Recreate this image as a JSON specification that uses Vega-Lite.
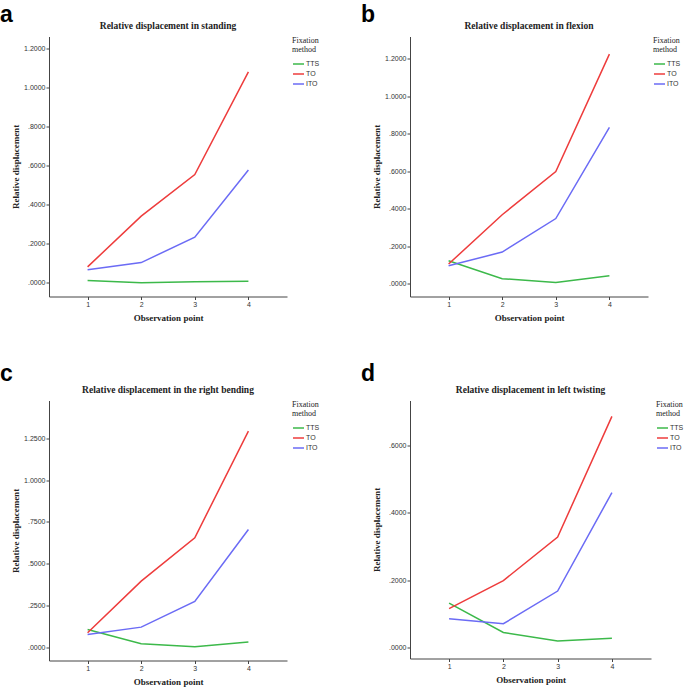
{
  "$schema": "https://vega.github.io/schema/vega-lite/v6.json",
  "padding": {"top": 3.5, "left": 0, "right": 0, "bottom": 0},
  "background": "white",
  "datasets": {
    "a": [
      {"point": 1, "method": "TTS", "value": 0.012}, {"point": 2, "method": "TTS", "value": 0.0}, {"point": 3, "method": "TTS", "value": 0.005}, {"point": 4, "method": "TTS", "value": 0.008},
      {"point": 1, "method": "TO", "value": 0.082}, {"point": 2, "method": "TO", "value": 0.342}, {"point": 3, "method": "TO", "value": 0.555}, {"point": 4, "method": "TO", "value": 1.082},
      {"point": 1, "method": "ITO", "value": 0.067}, {"point": 2, "method": "ITO", "value": 0.104}, {"point": 3, "method": "ITO", "value": 0.234}, {"point": 4, "method": "ITO", "value": 0.579}
    ],
    "b": [
      {"point": 1, "method": "TTS", "value": 0.123}, {"point": 2, "method": "TTS", "value": 0.027}, {"point": 3, "method": "TTS", "value": 0.007}, {"point": 4, "method": "TTS", "value": 0.043},
      {"point": 1, "method": "TO", "value": 0.105}, {"point": 2, "method": "TO", "value": 0.368}, {"point": 3, "method": "TO", "value": 0.599}, {"point": 4, "method": "TO", "value": 1.225},
      {"point": 1, "method": "ITO", "value": 0.096}, {"point": 2, "method": "ITO", "value": 0.169}, {"point": 3, "method": "ITO", "value": 0.348}, {"point": 4, "method": "ITO", "value": 0.834}
    ],
    "c": [
      {"point": 1, "method": "TTS", "value": 0.109}, {"point": 2, "method": "TTS", "value": 0.024}, {"point": 3, "method": "TTS", "value": 0.006}, {"point": 4, "method": "TTS", "value": 0.034},
      {"point": 1, "method": "TO", "value": 0.089}, {"point": 2, "method": "TO", "value": 0.397}, {"point": 3, "method": "TO", "value": 0.656}, {"point": 4, "method": "TO", "value": 1.291},
      {"point": 1, "method": "ITO", "value": 0.079}, {"point": 2, "method": "ITO", "value": 0.123}, {"point": 3, "method": "ITO", "value": 0.276}, {"point": 4, "method": "ITO", "value": 0.705}
    ],
    "d": [
      {"point": 1, "method": "TTS", "value": 0.132}, {"point": 2, "method": "TTS", "value": 0.045}, {"point": 3, "method": "TTS", "value": 0.020}, {"point": 4, "method": "TTS", "value": 0.028},
      {"point": 1, "method": "TO", "value": 0.116}, {"point": 2, "method": "TO", "value": 0.199}, {"point": 3, "method": "TO", "value": 0.328}, {"point": 4, "method": "TO", "value": 0.686},
      {"point": 1, "method": "ITO", "value": 0.086}, {"point": 2, "method": "ITO", "value": 0.071}, {"point": 3, "method": "ITO", "value": 0.168}, {"point": 4, "method": "ITO", "value": 0.460}
    ]
  },
  "spacing": 40,
  "resolve": {"scale": {"color": "independent", "x": "independent", "y": "independent"}, "legend": {"color": "independent"}},
  "vconcat": [
    {
      "spacing": 41,
      "resolve": {"scale": {"color": "independent", "x": "independent", "y": "independent"}, "legend": {"color": "independent"}},
      "hconcat": [
        {
          "title": {"text": "a", "anchor": "start", "font": "Liberation Sans", "fontSize": 23, "fontWeight": "bold", "color": "#000", "offset": -6, "dx": -11},
          "resolve": {"scale": {"color": "independent"}, "legend": {"color": "independent"}},
          "vconcat": [
            {
              "width": 238, "height": 260,
              "title": {"text": "Relative displacement in standing"},
              "data": {"name": "a"},
              "mark": {"type": "line", "strokeWidth": 1.5},
              "encoding": {
                "x": {"field": "point", "type": "quantitative", "scale": {"domain": [0.28, 4.72], "nice": false, "zero": false}, "axis": {"values": [1, 2, 3, 4], "format": "d", "title": "Observation point"}},
                "y": {"field": "value", "type": "quantitative", "scale": {"domain": [-0.07, 1.263], "nice": false, "zero": false}, "axis": {"values": [0, 0.2, 0.4, 0.6, 0.8, 1.0, 1.2], "labelExpr": "datum.value < 1 ? substring(format(datum.value, '.4f'), 1) : format(datum.value, '.4f')", "title": "Relative displacement"}},
                "color": {"field": "method", "type": "nominal", "scale": {"domain": ["TTS", "TO", "ITO"], "range": ["#3cb94a", "#ee3c3c", "#6b6bf5"]}, "legend": {"title": ["Fixation", "method"]}}
              }
            }
          ]
        },
        {
          "title": {"text": "b", "anchor": "start", "font": "Liberation Sans", "fontSize": 23, "fontWeight": "bold", "color": "#000", "offset": -6, "dx": -11},
          "resolve": {"scale": {"color": "independent"}, "legend": {"color": "independent"}},
          "vconcat": [
            {
              "width": 238, "height": 260,
              "title": {"text": "Relative displacement in  flexion"},
              "data": {"name": "b"},
              "mark": {"type": "line", "strokeWidth": 1.5},
              "encoding": {
                "x": {"field": "point", "type": "quantitative", "scale": {"domain": [0.28, 4.72], "nice": false, "zero": false}, "axis": {"values": [1, 2, 3, 4], "format": "d", "title": "Observation point"}},
                "y": {"field": "value", "type": "quantitative", "scale": {"domain": [-0.068, 1.319], "nice": false, "zero": false}, "axis": {"values": [0, 0.2, 0.4, 0.6, 0.8, 1.0, 1.2], "labelExpr": "datum.value < 1 ? substring(format(datum.value, '.4f'), 1) : format(datum.value, '.4f')", "title": "Relative displacement"}},
                "color": {"field": "method", "type": "nominal", "scale": {"domain": ["TTS", "TO", "ITO"], "range": ["#3cb94a", "#ee3c3c", "#6b6bf5"]}, "legend": {"title": ["Fixation", "method"]}}
              }
            }
          ]
        }
      ]
    },
    {
      "spacing": 41,
      "resolve": {"scale": {"color": "independent", "x": "independent", "y": "independent"}, "legend": {"color": "independent"}},
      "hconcat": [
        {
          "title": {"text": "c", "anchor": "start", "font": "Liberation Sans", "fontSize": 23, "fontWeight": "bold", "color": "#000", "offset": -1, "dx": -11},
          "resolve": {"scale": {"color": "independent"}, "legend": {"color": "independent"}},
          "vconcat": [
            {
              "width": 238, "height": 260,
              "title": {"text": "Relative displacement in the right bending"},
              "data": {"name": "c"},
              "mark": {"type": "line", "strokeWidth": 1.5},
              "encoding": {
                "x": {"field": "point", "type": "quantitative", "scale": {"domain": [0.28, 4.72], "nice": false, "zero": false}, "axis": {"values": [1, 2, 3, 4], "format": "d", "title": "Observation point"}},
                "y": {"field": "value", "type": "quantitative", "scale": {"domain": [-0.076, 1.474], "nice": false, "zero": false}, "axis": {"values": [0, 0.25, 0.5, 0.75, 1.0, 1.25], "labelExpr": "datum.value < 1 ? substring(format(datum.value, '.4f'), 1) : format(datum.value, '.4f')", "title": "Relative displacement"}},
                "color": {"field": "method", "type": "nominal", "scale": {"domain": ["TTS", "TO", "ITO"], "range": ["#3cb94a", "#ee3c3c", "#6b6bf5"]}, "legend": {"title": ["Fixation", "method"]}}
              }
            }
          ]
        },
        {
          "title": {"text": "d", "anchor": "start", "font": "Liberation Sans", "fontSize": 23, "fontWeight": "bold", "color": "#000", "offset": -1, "dx": -11},
          "resolve": {"scale": {"color": "independent"}, "legend": {"color": "independent"}},
          "vconcat": [
            {
              "width": 241, "height": 258,
              "title": {"text": "Relative displacement in left twisting"},
              "data": {"name": "d"},
              "mark": {"type": "line", "strokeWidth": 1.5},
              "encoding": {
                "x": {"field": "point", "type": "quantitative", "scale": {"domain": [0.28, 4.72], "nice": false, "zero": false}, "axis": {"values": [1, 2, 3, 4], "format": "d", "title": "Observation point"}},
                "y": {"field": "value", "type": "quantitative", "scale": {"domain": [-0.032, 0.733], "nice": false, "zero": false}, "axis": {"values": [0, 0.2, 0.4, 0.6], "labelExpr": "datum.value < 1 ? substring(format(datum.value, '.4f'), 1) : format(datum.value, '.4f')", "title": "Relative displacement"}},
                "color": {"field": "method", "type": "nominal", "scale": {"domain": ["TTS", "TO", "ITO"], "range": ["#3cb94a", "#ee3c3c", "#6b6bf5"]}, "legend": {"title": ["Fixation", "method"]}}
              }
            }
          ]
        }
      ]
    }
  ],
  "config": {
    "view": {"stroke": null},
    "title": {"font": "Liberation Serif", "fontSize": 9.5, "fontWeight": "bold", "color": "#222", "offset": 6},
    "axis": {
      "grid": false,
      "domainColor": "#444",
      "tickColor": "#444",
      "tickSize": 3,
      "labelFont": "Liberation Sans",
      "labelFontSize": 7,
      "labelColor": "#333",
      "labelPadding": 1,
      "titleFont": "Liberation Serif",
      "titleFontSize": 9,
      "titleFontWeight": "bold",
      "titleColor": "#222"
    },
    "axisY": {"minExtent": 25, "maxExtent": 25, "titlePadding": 4},
    "axisX": {"titlePadding": 6},
    "legend": {
      "orient": "right",
      "offset": 5,
      "padding": 0,
      "titleFont": "Liberation Serif",
      "titleFontSize": 8,
      "titleFontWeight": "normal",
      "titleColor": "#222",
      "titleLineHeight": 9,
      "titlePadding": 4,
      "labelFont": "Liberation Sans",
      "labelFontSize": 7,
      "labelColor": "#333",
      "labelOffset": 1,
      "symbolType": "stroke",
      "symbolSize": 121,
      "symbolStrokeWidth": 1.5,
      "rowPadding": -2.5
    }
  }
}
